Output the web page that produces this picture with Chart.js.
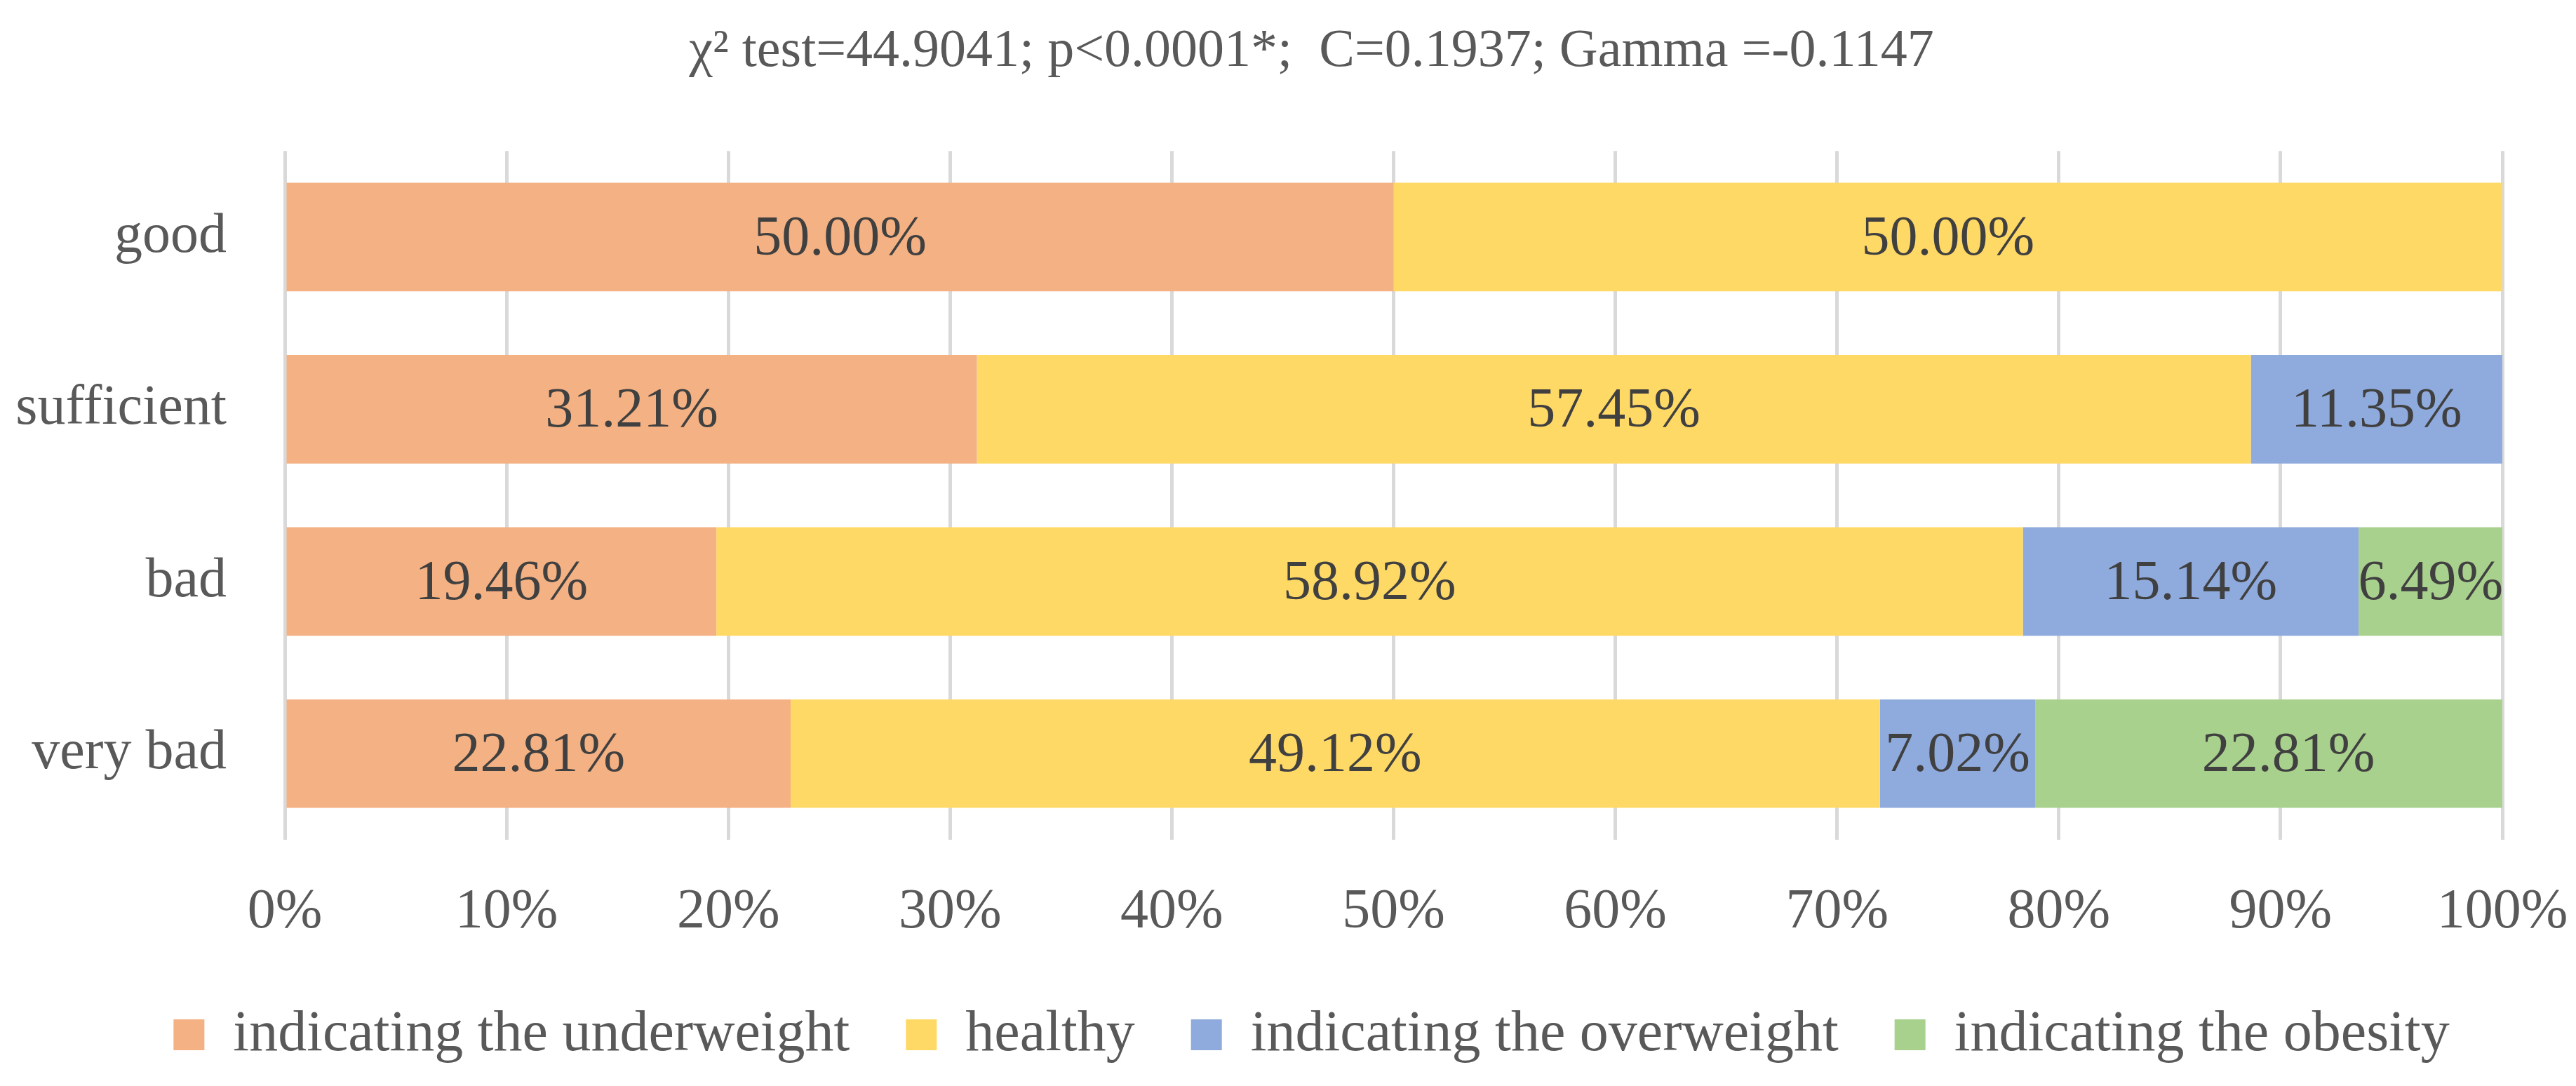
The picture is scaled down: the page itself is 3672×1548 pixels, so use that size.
<!DOCTYPE html>
<html>
<head>
<meta charset="utf-8">
<script src="https://cdn.jsdelivr.net/npm/chart.js@4"></script>
<style>
  html, body { margin: 0; padding: 0; background: #fff; }
  #wrap { width: 3672px; height: 1548px; }
</style>
</head>
<body>
<div id="wrap"><canvas id="bmiChart" width="3672" height="1548"></canvas></div>
<script>
// ── data ──────────────────────────────────────────────────────────────────────
const categories  = ['good', 'sufficient', 'bad', 'very bad'];
const underweight = [50.00, 31.21, 19.46, 22.81];
const healthy     = [50.00, 57.45, 58.92, 49.12];
const overweight  = [0,     11.35, 15.14, 7.02];
const obesity     = [0,     0,     6.49,  22.81];
const seriesNames = ['indicating the underweight', 'healthy', 'indicating the overweight', 'indicating the obesity'];
const xTicks      = [0, 10, 20, 30, 40, 50, 60, 70, 80, 90, 100];
const titleText   = 'χ² test=44.9041; p<0.0001*;  C=0.1937; Gamma =-0.1147';

const FONT   = "'Liberation Serif', serif";
const FSIZE  = 80;
const colors = ['#F4B183', '#FFD966', '#8FAADC', '#A9D18E'];
const SHIFT  = 86;   // title + legend sit a bit right of the canvas centre in the original

// draws the value in the middle of each segment (skips empty ones)
const barValueLabels = {
  id: 'barValueLabels',
  afterDatasetsDraw(chart) {
    const ctx = chart.ctx;
    ctx.save();
    ctx.font = `${FSIZE}px ${FONT}`;
    ctx.fillStyle = '#404040';
    ctx.textAlign = 'center';
    ctx.textBaseline = 'middle';
    chart.data.datasets.forEach((ds, i) => {
      const meta = chart.getDatasetMeta(i);
      meta.data.forEach((bar, j) => {
        const v = ds.data[j];
        if (!v) return;
        ctx.fillText(v.toFixed(2) + '%', (bar.x + bar.base) / 2, bar.y + 4);
      });
    });
    ctx.restore();
  },
};

// nudge the title and legend boxes sideways after layout
const shiftBlocks = {
  id: 'shiftBlocks',
  afterLayout(chart) {
    [chart.titleBlock, chart.legend].forEach(b => {
      if (!b) return;
      b.left  += SHIFT;
      b.right += SHIFT;
    });
  },
};

const series = [underweight, healthy, overweight, obesity];

new Chart(document.getElementById('bmiChart'), {
  type: 'bar',
  data: {
    labels: categories,
    datasets: series.map((data, i) => ({
      label:           seriesNames[i],
      data,
      backgroundColor: colors[i],
      borderWidth:     0,
      categoryPercentage: 1,
      barPercentage:   0.63,
    })),
  },
  options: {
    indexAxis: 'y',
    responsive: false,
    animation: false,
    devicePixelRatio: 1,
    layout: { padding: { left: 0, right: 105, top: 0, bottom: 22 } },
    plugins: {
      title: {
        display: true,
        text:    titleText,
        color:   '#595959',
        font:    { family: FONT, size: 76, weight: 'normal', lineHeight: 1.2 },
        padding: { top: 28, bottom: 96 },
      },
      legend: {
        display:  true,
        position: 'bottom',
        labels: {
          color:     '#595959',
          font:      { family: FONT, size: 82 },
          boxWidth:  44,
          boxHeight: 44,
          padding:   80,
        },
      },
      tooltip: { enabled: false },
    },
    scales: {
      x: {
        stacked: true,
        min: 0,
        max: 100,
        afterBuildTicks: axis => { axis.ticks = xTicks.map(v => ({ value: v })); },
        // tick padding would otherwise widen the side padding
        afterFit: axis => { axis.height = 157; axis.paddingLeft = 0; axis.paddingRight = 40; },
        grid:   { color: '#D9D9D9', lineWidth: 5, drawTicks: false },
        border: { display: false },
        ticks:  {
          color: '#595959',
          font: { family: FONT, size: FSIZE },
          padding: 56,
          callback: v => v + '%',
        },
      },
      y: {
        stacked: true,
        afterFit: axis => { axis.width = 406; },
        grid:   { display: false, drawTicks: false },
        border: { display: false },
        ticks:  {
          color: '#595959',
          font: { family: FONT, size: FSIZE },
          padding: 83,
        },
      },
    },
  },
  plugins: [barValueLabels, shiftBlocks],
});
</script>
</body>
</html>
